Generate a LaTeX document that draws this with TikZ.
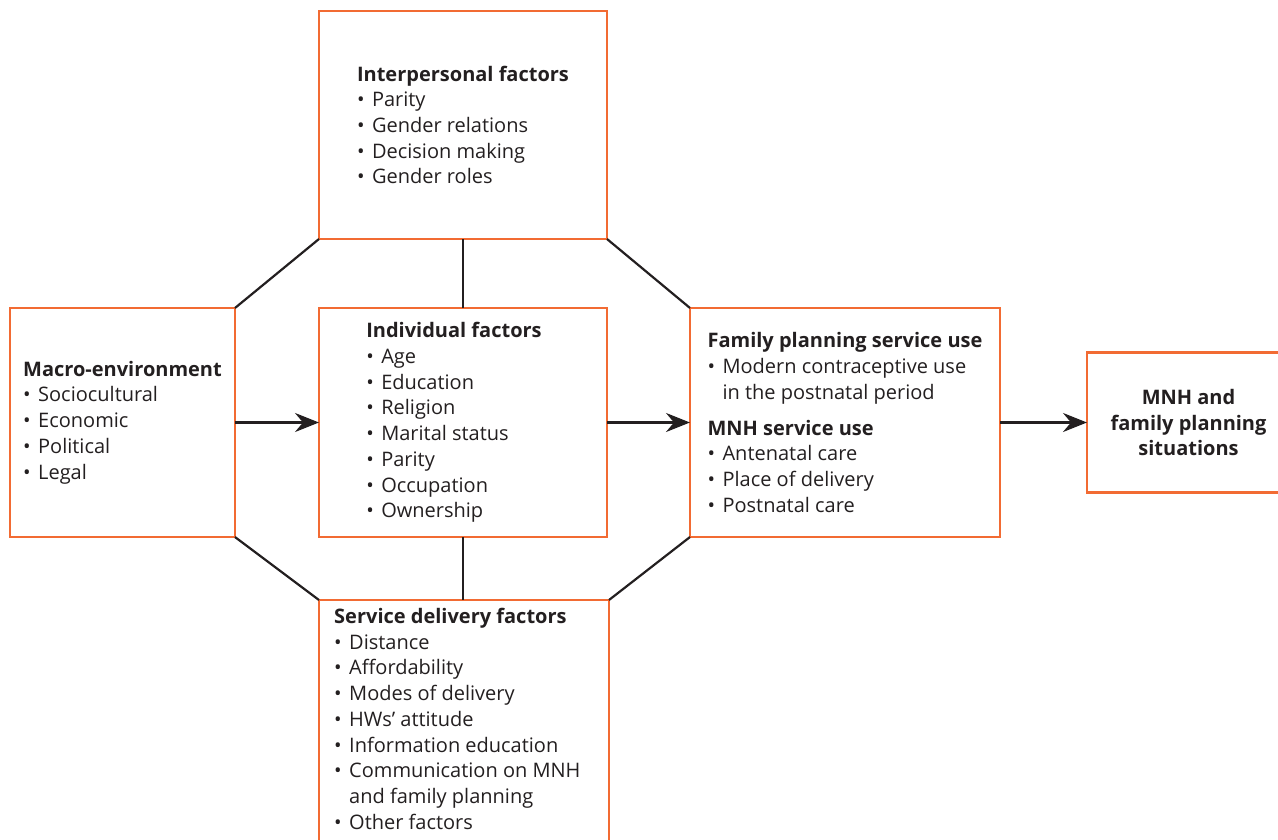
\documentclass[tikz,border=0pt]{standalone}
\usepackage{fontspec}
\setmainfont{Open Sans}
\usetikzlibrary{arrows.meta}
\definecolor{frameorange}{HTML}{F26B33}
\definecolor{inkgray}{HTML}{231F20}
\newcommand{\itm}{\makebox[15pt][l]{\textbullet}}
\newcommand{\cont}{\hspace*{15pt}}
\tikzset{
  box/.style={draw=frameorange, line width=2.2pt, outer sep=0pt, inner sep=0pt, align=left, text=inkgray},
  link/.style={draw=inkgray, line width=2.2pt},
  flow/.style={link, -{Stealth[length=24pt,width=19pt,inset=8pt]}},
}
\begin{document}
\begin{tikzpicture}[x=1pt, y=-1pt, font=\fontsize{20}{25.7}\selectfont]
  \useasboundingbox (0,0) rectangle (1278,840);
  \clip (0,0) rectangle (1278,840);
  \draw
    (463,125) node[box, minimum width=288, minimum height=228] (inter)
      {\textbf{Interpersonal factors}\\ \itm Parity\\ \itm Gender relations\\
       \itm Decision making\\ \itm Gender roles}
    (463,422.5) node[box, minimum width=288, minimum height=229] (indiv)
      {\textbf{Individual factors}\hspace*{18pt}\\ \itm Age\\ \itm Education\\ \itm Religion\\
       \itm Marital status\\ \itm Parity\\ \itm Occupation\\ \itm Ownership}
    (122.5,422.5) node[box, minimum width=225, minimum height=229] (macro)
      {\textbf{Macro-environment}\\ \itm Sociocultural\\ \itm Economic\\
       \itm Political\\ \itm Legal}
    (845,422.5) node[box, minimum width=310, minimum height=229] (use)
      {\textbf{Family planning service use}\\ \itm Modern contraceptive use\\
       \cont in the postnatal period\\[10pt] \textbf{MNH service use}\\
       \itm Antenatal care\\ \itm Place of delivery\\ \itm Postnatal care}
    (1188.5,422.5) node[box, align=center, minimum width=203, minimum height=140] (result)
      {\textbf{MNH and}\\ \textbf{family planning}\\ \textbf{situations}}
    (464,600) node[box, anchor=north, minimum width=290, minimum height=260] (service) {};
  \node[text=inkgray, align=left, inner sep=0pt, anchor=north west] (servicetext) at (334,608)
    {\textbf{Service delivery factors}\\ \itm Distance\\ \itm Affordability\\
     \itm Modes of delivery\\ \itm HWs’ attitude\\ \itm Information education\\
     \itm Communication on MNH\\ \cont and family planning\\ \itm Other factors};
  \begin{scope}[link]
    \draw (inter.south west) -- (macro.north east);
    \draw (inter.south) -- (indiv.north);
    \draw (inter.south east) -- (use.north west);
    \draw (macro.south east) -- (service.north west);
    \draw (indiv.south) -- (indiv.south |- service.north);
    \draw (use.south west) -- (service.north east);
  \end{scope}
  \draw[flow] (macro.east) -- (indiv.west);
  \draw[flow] (indiv.east) -- (use.west);
  \draw[flow] (use.east) -- (result.west);
\end{tikzpicture}
\end{document}
